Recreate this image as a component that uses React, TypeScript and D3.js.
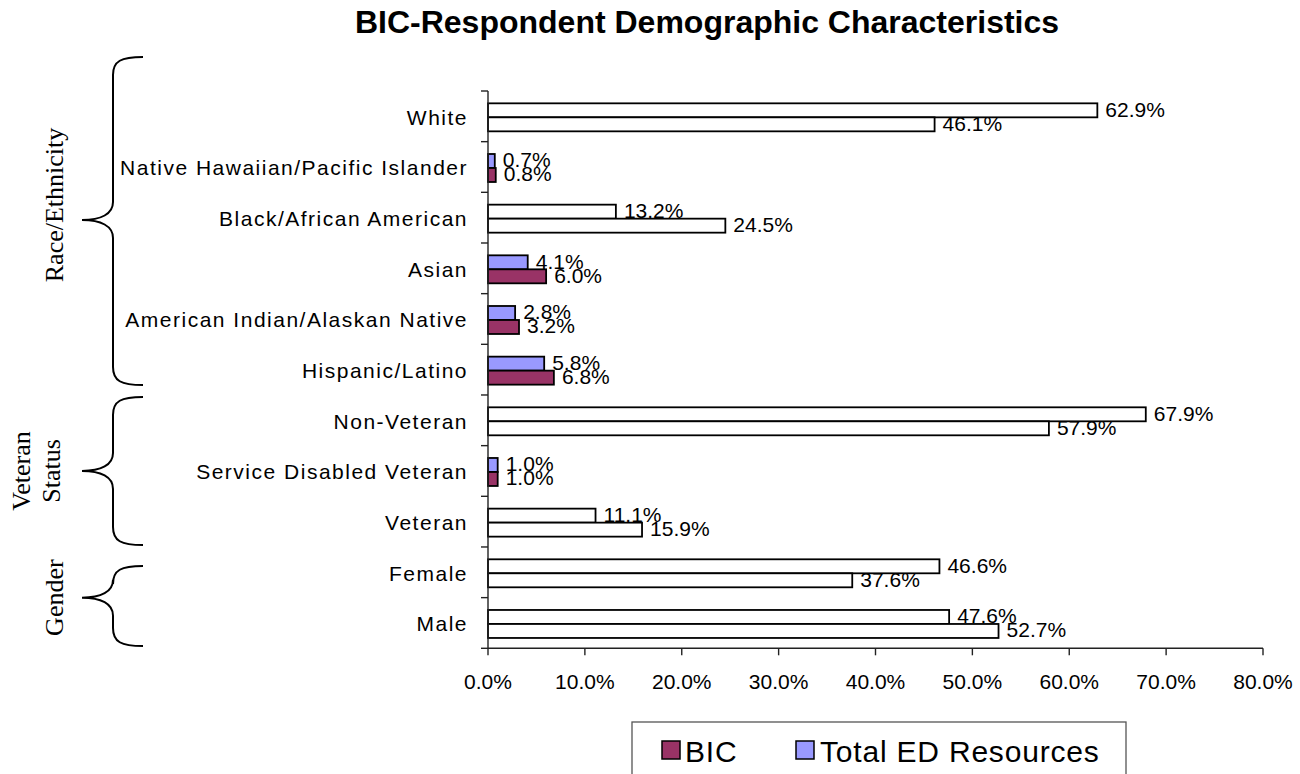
import React from "react";
import * as d3 from "d3";

const categories = [
  "White",
  "Native Hawaiian/Pacific Islander",
  "Black/African American",
  "Asian",
  "American Indian/Alaskan Native",
  "Hispanic/Latino",
  "Non-Veteran",
  "Service Disabled Veteran",
  "Veteran",
  "Female",
  "Male",
];
// top bar in each pair
const totalED = [62.9, 0.7, 13.2, 4.1, 2.8, 5.8, 67.9, 1.0, 11.1, 46.6, 47.6];
// bottom bar in each pair
const bic = [46.1, 0.8, 24.5, 6.0, 3.2, 6.8, 57.9, 1.0, 15.9, 37.6, 52.7];
// rows drawn with unfilled (white) bars in the original
const plainRows = [true, false, true, false, false, false, true, false, true, true, true];
const xTicks = [0, 10, 20, 30, 40, 50, 60, 70, 80];

const groups = [
  { lines: ["Race/Ethnicity"], from: "White", to: "Hispanic/Latino" },
  { lines: ["Veteran", "Status"], from: "Non-Veteran", to: "Veteran" },
  { lines: ["Gender"], from: "Female", to: "Male" },
];

const BIC_COLOR = "#993366";
const ED_COLOR = "#9999FF";

export default function App() {
  const W = 1300;
  const H = 774;
  const x = d3.scaleLinear().domain([0, 80]).range([488, 1263]);
  const y = d3.scaleBand<string>().domain(categories).range([91, 648.3]);
  const bh = 14;
  const sans = "Arial, 'Liberation Sans', sans-serif";
  const serif = "'Times New Roman', 'Liberation Serif', serif";
  const axisY = y.range()[1];

  const bracePath = (top: number, tip: number, bottom: number) => {
    const xe = 143, xv = 113, xt = 82;
    const r = 18;
    return [
      `M ${xe} ${top}`,
      `C ${xv + 8} ${top}, ${xv} ${top + 4}, ${xv} ${top + r}`,
      `L ${xv} ${tip - r}`,
      `C ${xv} ${tip - 6}, ${xv - 12} ${tip}, ${xt} ${tip}`,
      `C ${xv - 12} ${tip}, ${xv} ${tip + 6}, ${xv} ${tip + r}`,
      `L ${xv} ${bottom - r}`,
      `C ${xv} ${bottom - 4}, ${xv + 8} ${bottom}, ${xe} ${bottom}`,
    ].join(" ");
  };

  const braceSpans = [
    { top: 57, bottom: 385 },
    { top: 397, bottom: 545 },
    { top: 566, bottom: 646 },
  ];
  const labelX = [[63], [30, 60], [63]];

  return (
    <svg
      width={W}
      height={H}
      style={{ position: "absolute", left: 0, top: 0, background: "#fff" }}
    >
      <rect x={0} y={0} width={W} height={H} fill="#fff" />
      <text
        x={707}
        y={33}
        textAnchor="middle"
        fontFamily={sans}
        fontWeight="bold"
        fontSize={32}
      >
        BIC-Respondent Demographic Characteristics
      </text>

      {/* bars */}
      {categories.map((c, i) => {
        const cy = (y(c) as number) + y.bandwidth() / 2 + 1;
        const plain = plainRows[i];
        const topY = cy - bh;
        const botY = cy;
        return (
          <g key={c}>
            <rect
              x={x(0)}
              y={topY}
              width={x(totalED[i]) - x(0)}
              height={bh}
              fill={plain ? "#fff" : ED_COLOR}
              stroke="#000"
              strokeWidth={1.8}
            />
            <rect
              x={x(0)}
              y={botY}
              width={x(bic[i]) - x(0)}
              height={bh}
              fill={plain ? "#fff" : BIC_COLOR}
              stroke="#000"
              strokeWidth={1.8}
            />
            <text
              x={x(totalED[i]) + 8}
              y={topY + bh / 2 - 1}
              dominantBaseline="central"
              fontFamily={sans}
              fontSize={21}
            >
              {totalED[i].toFixed(1)}%
            </text>
            <text
              x={x(bic[i]) + 8}
              y={botY + bh / 2 - 1}
              dominantBaseline="central"
              fontFamily={sans}
              fontSize={21}
            >
              {bic[i].toFixed(1)}%
            </text>
            <text
              x={468}
              y={(y(c) as number) + y.bandwidth() / 2 + 1}
              textAnchor="end"
              dominantBaseline="central"
              fontFamily={sans}
              fontSize={21}
              letterSpacing={1.5}
            >
              {c}
            </text>
          </g>
        );
      })}

      {/* y axis */}
      <line x1={x(0)} x2={x(0)} y1={y.range()[0]} y2={axisY} stroke="#222" strokeWidth={1.4} />
      {categories.map((c) => (
        <line
          key={"yt" + c}
          x1={x(0) - 7}
          x2={x(0)}
          y1={y(c) as number}
          y2={y(c) as number}
          stroke="#222"
          strokeWidth={1.4}
        />
      ))}
      <line x1={x(0) - 7} x2={x(0)} y1={axisY} y2={axisY} stroke="#222" strokeWidth={1.4} />

      {/* x axis */}
      <line x1={x(0)} x2={x(80)} y1={axisY} y2={axisY} stroke="#222" strokeWidth={1.4} />
      {xTicks.map((t) => (
        <g key={"xt" + t}>
          <line x1={x(t)} x2={x(t)} y1={axisY} y2={axisY + 7} stroke="#222" strokeWidth={1.4} />
          <text
            x={x(t)}
            y={681}
            textAnchor="middle"
            dominantBaseline="central"
            fontFamily={sans}
            fontSize={21}
          >
            {t.toFixed(1)}%
          </text>
        </g>
      ))}

      {/* braces and group labels */}
      {groups.map((g, gi) => {
        const span = braceSpans[gi];
        const tip =
          ((y(g.from) as number) + (y(g.to) as number) + y.bandwidth()) / 2;
        const tipY = gi === 0 ? 220 : tip;
        return (
          <g key={"g" + gi}>
            <path
              d={bracePath(span.top, tipY, span.bottom)}
              fill="none"
              stroke="#000"
              strokeWidth={2}
            />
            {g.lines.map((ln, li) => (
              <text
                key={ln}
                transform={`translate(${labelX[gi][li]}, ${gi === 0 ? 205 : tipY}) rotate(-90)`}
                textAnchor="middle"
                fontFamily={serif}
                fontSize={26}
              >
                {ln}
              </text>
            ))}
          </g>
        );
      })}

      {/* legend */}
      <rect x={632} y={722} width={494} height={80} fill="#fff" stroke="#555" strokeWidth={1.3} />
      <rect x={662} y={741} width={18} height={18} fill={BIC_COLOR} stroke="#000" strokeWidth={1.5} />
      <text x={685} y={751} dominantBaseline="central" fontFamily={sans} fontSize={30} letterSpacing={0.8}>
        BIC
      </text>
      <rect x={796} y={741} width={18} height={18} fill={ED_COLOR} stroke="#000" strokeWidth={1.5} />
      <text x={820} y={751} dominantBaseline="central" fontFamily={sans} fontSize={30} letterSpacing={0.8}>
        Total ED Resources
      </text>
    </svg>
  );
}
